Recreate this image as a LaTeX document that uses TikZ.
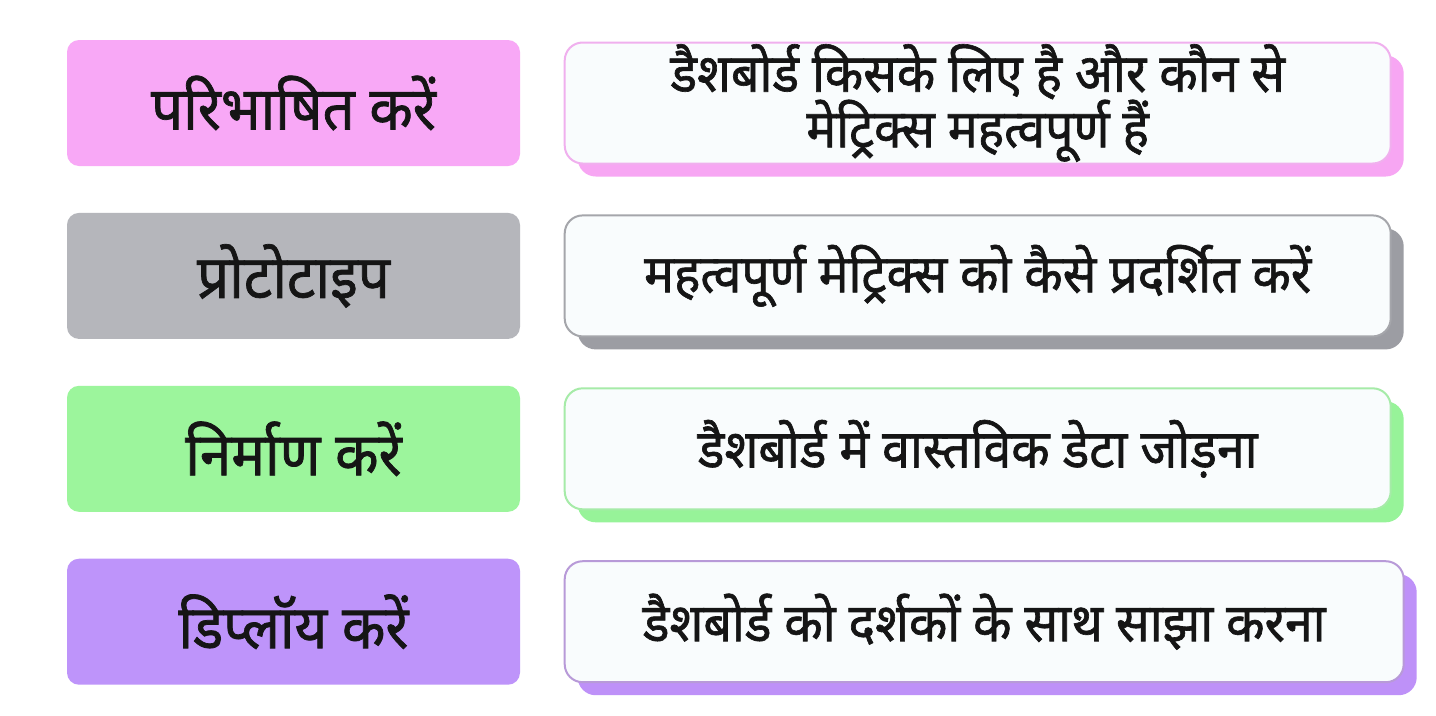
\documentclass[tikz,border=0pt]{standalone}
\usepackage{fontspec}
\newfontfamily\hindi[Script=Devanagari,FakeBold=1.2,FakeStretch=0.94]{Noto Sans}
\usetikzlibrary{positioning,shadows}
\definecolor{pinkfill}{HTML}{F8A8F6}
\definecolor{grayfill}{HTML}{B5B6BB}
\definecolor{greenfill}{HTML}{9CF59C}
\definecolor{purplefill}{HTML}{BE94FA}
\definecolor{pinkline}{HTML}{F0B0EE}
\definecolor{grayline}{HTML}{A5A6AB}
\definecolor{greenline}{HTML}{A6EBA8}
\definecolor{purpleline}{HTML}{B89AD8}
\definecolor{pinkshadow}{HTML}{F7A6F3}
\definecolor{grayshadow}{HTML}{9C9DA3}
\definecolor{greenshadow}{HTML}{97F399}
\definecolor{purpleshadow}{HTML}{BE91F8}
\definecolor{cardfill}{HTML}{F9FCFD}
\definecolor{ink}{HTML}{151515}
\begin{document}
\begin{tikzpicture}[x=0.1mm,y=-0.1mm,font=\hindi\fontsize{15.1}{15.8}\selectfont,text=ink]
				\tikzset{stage/.style={rounded corners=1.2mm,minimum width=45.3mm,minimum height=12.6mm,inner sep=0pt,font=\hindi\fontsize{17.1}{18}\selectfont},
					card/.style={rounded corners=1.8mm,line width=0.2mm,fill=cardfill,minimum width=82.6mm,minimum height=12.1mm,inner sep=0pt,align=center,
						drop shadow={shadow xshift=1.3mm,shadow yshift=-1.3mm,opacity=1,fill=#1shadow},draw=#1line}}
				\useasboundingbox[fill=white] (0,0) rectangle (1436,715);
				\node[stage,fill=pinkfill] (define) at (293.5,103) {परिभाषित करें};
				\node[stage,fill=grayfill,below=4.55mm of define] (proto) {प्रोटोटाइप};
				\node[stage,fill=greenfill,below=4.55mm of proto] (build) {निर्माण करें};
				\node[stage,fill=purplefill,below=4.55mm of build] (deploy) {डिप्लॉय करें};
				\node[card=pink,right=4.3mm of define] (definetxt) {डैशबोर्ड किसके लिए है और कौन से\\मेट्रिक्स महत्वपूर्ण हैं};
				\node[card=gray,right=4.3mm of proto] (prototxt) {महत्वपूर्ण मेट्रिक्स को कैसे प्रदर्शित करें};
				\node[card=green,right=4.3mm of build] (buildtxt) {डैशबोर्ड में वास्तविक डेटा जोड़ना};
				\node[card=purple,minimum width=83.9mm,right=4.3mm of deploy] (deploytxt) {डैशबोर्ड को दर्शकों के साथ साझा करना};
			\end{tikzpicture}
\end{document}
